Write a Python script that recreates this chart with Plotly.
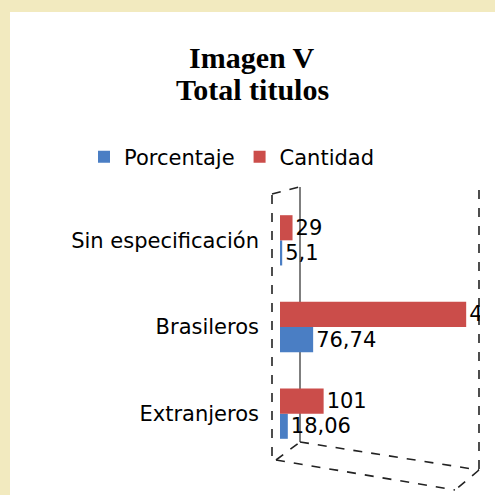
import plotly.graph_objects as go

categories = ["Extranjeros", "Brasileros", "Sin especificación"]
porcentaje = [18.06, 76.74, 5.1]
cantidad = [101, 431, 29]
porcentaje_labels = ["18,06", "76,74", "5,1"]
cantidad_labels = ["101", "431", "29"]

BLUE = "#4A7EC4"
RED = "#CB4D4A"
BEIGE = "#F2EABF"
FONT = "DejaVu Sans"

L, R, T, B = 280, 15, 197, 38
W = H = 495
PW = W - L - R
PH = H - T - B


def px(x):
    return (x - L) / PW


def py(y):
    return (H - B - y) / PH


fig = go.Figure()
fig.add_trace(go.Bar(
    y=categories, x=porcentaje, orientation="h", name="Porcentaje",
    marker=dict(color=BLUE, line=dict(width=0)),
    text=porcentaje_labels, textposition="outside", constraintext="none",
    textfont=dict(family=FONT, size=21, color="black"), cliponaxis=True,
))
fig.add_trace(go.Bar(
    y=categories, x=cantidad, orientation="h", name="Cantidad",
    marker=dict(color=RED, line=dict(width=0)),
    text=cantidad_labels, textposition="outside", constraintext="none",
    textfont=dict(family=FONT, size=21, color="black"), cliponaxis=True,
))

line = dict(color="#222222", width=1.6, dash="dash")
shapes = [
    dict(type="rect", xref="paper", yref="paper", x0=px(10), x1=px(W + 5),
         y0=py(H + 5), y1=py(12), fillcolor="white", line=dict(width=0), layer="below"),
    dict(type="line", xref="paper", yref="paper", x0=px(272), x1=px(272), y0=py(195), y1=py(458), line=line, layer="below"),
    dict(type="line", xref="paper", yref="paper", x0=px(272), x1=px(299), y0=py(194), y1=py(187), line=line, layer="below"),
    dict(type="line", xref="paper", yref="paper", x0=px(300), x1=px(300), y0=py(187), y1=py(442),
         line=dict(color="#555555", width=1.5), layer="below"),
    dict(type="line", xref="paper", yref="paper", x0=px(479), x1=px(479), y0=py(190), y1=py(470), line=line, layer="below"),
    dict(type="line", xref="paper", yref="paper", x0=px(300), x1=px(479), y0=py(442), y1=py(470), line=line, layer="below"),
    dict(type="line", xref="paper", yref="paper", x0=px(276), x1=px(300), y0=py(460), y1=py(442), line=line, layer="below"),
    dict(type="line", xref="paper", yref="paper", x0=px(276), x1=px(455), y0=py(460), y1=py(490), line=line, layer="below"),
    dict(type="line", xref="paper", yref="paper", x0=px(479), x1=px(455), y0=py(470), y1=py(490), line=line, layer="below"),
]

title_font = dict(family="Liberation Serif", size=30, color="black")
annotations = [
    dict(text="<b>Imagen V</b>", xref="paper", yref="paper", x=px(252), y=py(58),
         xanchor="center", yanchor="middle", showarrow=False, font=title_font),
    dict(text="<b>Total titulos</b>", xref="paper", yref="paper", x=px(252), y=py(90),
         xanchor="center", yanchor="middle", showarrow=False, font=title_font),
]

fig.update_layout(
    width=W, height=H,
    margin=dict(l=L, r=R, t=T, b=B, autoexpand=False),
    paper_bgcolor=BEIGE,
    plot_bgcolor="rgba(0,0,0,0)",
    barmode="group",
    bargap=0.42,
    bargroupgap=0,
    showlegend=True,
    legend=dict(
        orientation="h", xref="paper", yref="paper",
        x=px(84), xanchor="left", y=py(157), yanchor="middle",
        font=dict(family=FONT, size=21, color="black"),
        bgcolor="rgba(0,0,0,0)", traceorder="normal",
    ),
    xaxis=dict(range=[0, 463], visible=False, fixedrange=True, automargin=False),
    yaxis=dict(
        categoryorder="array", categoryarray=categories,
        showline=False, showgrid=False, zeroline=False, ticks="",
        ticklabelstandoff=20, automargin=False, fixedrange=True,
        tickfont=dict(family=FONT, size=21, color="black"),
    ),
    shapes=shapes,
    annotations=annotations,
)

fig.write_html("out.html", config={"displayModeBar": False},
               post_script="document.body.style.margin='0';")
